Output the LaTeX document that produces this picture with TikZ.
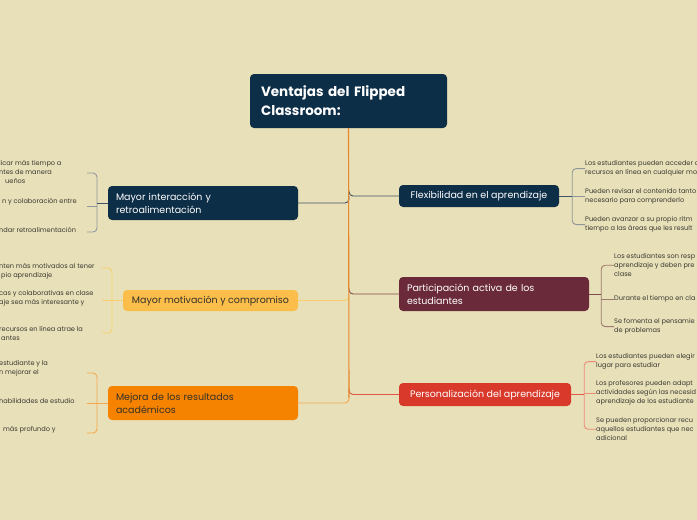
\documentclass[tikz,border=0pt]{standalone}
\usepackage{fontspec}
\setmainfont{Poppins}
\usetikzlibrary{positioning}

\definecolor{paper}{HTML}{E8E0B8}
\definecolor{navy}{HTML}{0D2E47}
\definecolor{navyline}{HTML}{3E5568}
\definecolor{navytwig}{HTML}{8E979A}
\definecolor{motivfill}{HTML}{FCBE4A}
\definecolor{motivline}{HTML}{F9CF6E}
\definecolor{mejorafill}{HTML}{F68300}
\definecolor{mejoraline}{HTML}{F3A84E}
\definecolor{trunkline}{HTML}{E8862A}
\definecolor{particfill}{HTML}{6A2A3A}
\definecolor{particline}{HTML}{7E4B4E}
\definecolor{partictwig}{HTML}{9C7A6E}
\definecolor{personfill}{HTML}{D8392A}
\definecolor{personline}{HTML}{E2564A}
\definecolor{persontwig}{HTML}{EB8B7A}
\definecolor{leaftext}{HTML}{3C3A33}
\definecolor{darktext}{HTML}{33302A}

\begin{document}
\begin{tikzpicture}[x=1pt,y=-1pt]
        \tikzstyle{box}=[rounded corners=4pt,inner xsep=8pt,inner ysep=0pt,align=left,text=white,font=\fontsize{9.5}{13}\selectfont]
        \tikzstyle{leaf}=[inner sep=0pt,align=left,anchor=north west,text=leaftext,font=\fontsize{6.6}{9}\selectfont]
        \tikzstyle{twig}=[line width=0.9pt,rounded corners=4pt]

        \useasboundingbox (0,0) rectangle (697,520);
        \fill[paper] (0,0) rectangle (697,520);
        \clip (0,0) rectangle (697,520);

        \begin{scope}
          % centre
          \node[box,fill=navy,text width=175pt,minimum height=54pt,inner xsep=11pt,
            font=\bfseries\fontsize{13.5}{19}\selectfont](root) at (348.5,101){Ventajas del Flipped\\Classroom:};

          % left branches
          \node[box,fill=navy,text width=174pt,minimum height=34pt](interac) at (203,203){Mayor interacción y\\retroalimentación};
          \node[box,fill=motivfill,text=darktext,minimum width=175pt,minimum height=21pt](motiv) at (210.5,300.5){Mayor motivación y compromiso};
          \node[box,fill=mejorafill,text=darktext,text width=174pt,minimum height=34pt](mejora) at (203,403){Mejora de los resultados\\académicos};

          % right branches
          \node[box,fill=navy,minimum width=160pt,minimum height=22pt](flex) at (479,196){Flexibilidad en el aprendizaje};
          \node[box,fill=particfill,text width=174pt,minimum height=34pt](partic) at (494,294){Participación activa de los\\estudiantes};
          \node[box,fill=personfill,minimum width=172pt,minimum height=23pt](person) at (485,394.5){Personalización del aprendizaje};

          % leaves on the left (cut by the page edge)
          \node[leaf](i1) at (-1,160.5){licar más tiempo a\\ntes de manera\\\hspace*{6pt}ueños};
          \node[leaf](i2) at (-1,198.5){\hspace*{3pt}n y colaboración entre};
          \node[leaf](i3) at (-1,227.5){ndar retroalimentación};

          \node[leaf](m1) at (-1,263.5){nten más motivados al tener\\\hspace*{2pt}pio aprendizaje};
          \node[leaf](m2) at (-1,290.5){cas y colaborativas en clase\\aje sea más interesante y};
          \node[leaf](m3) at (-1,326.5){recursos en línea atrae la\\\hspace*{2pt}antes};

          \node[leaf](r1) at (-1,360.5){estudiante y la\\n mejorar el};
          \node[leaf](r2) at (-1,398.5){habilidades de estudio};
          \node[leaf](r3) at (-1,426.5){\hspace*{4pt}más profundo y};

          % leaves on the right
          \node[leaf](f1) at (585,160.5){Los estudiantes pueden acceder a\\recursos en línea en cualquier mo};
          \node[leaf](f2) at (585,188.5){Pueden revisar el contenido tanto\\necesario para comprenderlo};
          \node[leaf](f3) at (585,216.5){Pueden avanzar a su propio ritm\\tiempo a las áreas que les result};

          \node[leaf](p1) at (614,253.5){Los estudiantes son resp\\aprendizaje y deben pre\\clase};
          \node[leaf](p2) at (614,295.5){Durante el tiempo en cla};
          \node[leaf](p3) at (614,318.5){Se fomenta el pensamie\\de problemas};

          \node[leaf](s1) at (596,353.5){Los estudiantes pueden elegir\\lugar para estudiar};
          \node[leaf](s2) at (596,380.5){Los profesores pueden adapt\\actividades según las necesid\\aprendizaje de los estudiante};
          \node[leaf](s3) at (596,417.5){Se pueden proporcionar recu\\aquellos estudiantes que nec\\adicional};

          % joints on the trunk
          \coordinate(jinterac) at (349,196);
          \coordinate(jmotiv) at (349,295);
          \coordinate(jmejora) at (349,398);
          \coordinate(jflex) at (349,190);
          \coordinate(jpartic) at (349,288);
          \coordinate(jperson) at (349,388);

          \draw[twig,navyline](jinterac) |- (interac.east);
          \draw[twig,motivline](jmotiv) |- (motiv.east);
          \draw[twig,mejoraline](jmejora) |- (mejora.east);
          \draw[twig,navyline](jflex) |- (flex.west);
          \draw[twig,particline](jpartic) |- (partic.west);
          \draw[twig,personline](jperson) |- (person.west);
          \draw[line width=1.1pt,trunkline](root.south) -- (jmejora);

          % brackets on the left
          \coordinate(bi1) at (87,173);
          \coordinate(bi2) at (87,206);
          \coordinate(bi3) at (87,232);
          \draw[twig,navytwig](bi1) -| (97,203) |- (bi3);
          \draw[twig,navytwig](bi2) -- (97,206);
          \draw[twig,navyline](interac.west) -- (97,203);

          \coordinate(bm1) at (102,268);
          \coordinate(bm3) at (102,333);
          \draw[twig,motivline](bm1) -| (112,300) |- (bm3);
          \draw[twig,motivline](motiv.west) -- (102,300.5);

          \coordinate(br1) at (87,373);
          \coordinate(br3) at (87,433);
          \draw[twig,mejoraline](br1) -| (97,403) |- (br3);
          \draw[twig,mejoraline](mejora.west) -- (87,403);

          % brackets on the right
          \draw[twig,navytwig](f1.west) -| ([xshift=13pt]flex.east) |- (f3.west);
          \draw[twig,navytwig](f2.west) -- ([xshift=13pt]flex.east |- f2.west);
          \draw[twig,navyline](flex.east) -- ([xshift=13pt]flex.east);

          \draw[twig,partictwig](p1.west) -| ([xshift=12pt]partic.east) |- (p3.west);
          \draw[twig,partictwig](p2.west) -- ([xshift=12pt]partic.east |- p2.west);
          \draw[twig,particline](partic.east) -- ([xshift=12pt]partic.east);

          \draw[twig,persontwig](s1.west) -| ([xshift=13pt]person.east) |- (s3.west);
          \draw[twig,persontwig](s2.west) -- ([xshift=13pt]person.east |- s2.west);
          \draw[twig,personline](person.east) -- ([xshift=13pt]person.east);
        \end{scope}
      \end{tikzpicture}
\end{document}
